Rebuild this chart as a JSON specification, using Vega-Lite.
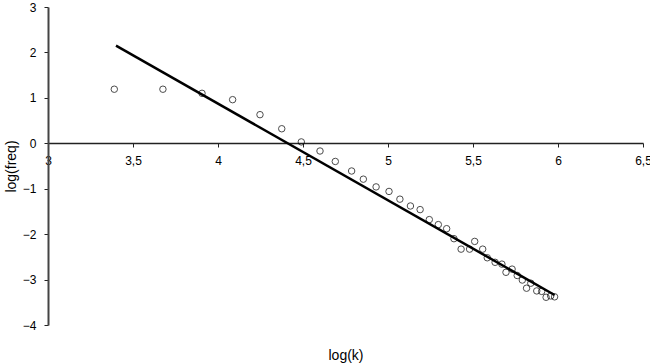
{
  "$schema": "https://vega.github.io/schema/vega-lite/v6.json",
  "width": 595,
  "height": 318,
  "autosize": "none",
  "padding": {"left": 48, "top": 7, "right": 7, "bottom": 39},
  "background": "white",
  "config": {
    "view": {"stroke": null},
    "font": "Liberation Sans",
    "axis": {"grid": false, "domainColor": "#222", "tickColor": "#222", "labelColor": "#000", "titleColor": "#000", "labelFont": "Liberation Sans", "titleFont": "Liberation Sans", "labelFontSize": 12, "titleFontSize": 14, "titleFontWeight": "normal"}
  },
  "datasets": {
    "pts": [
      {"x": 3.39, "y": 1.19}, {"x": 3.676, "y": 1.19}, {"x": 3.906, "y": 1.10},
      {"x": 4.086, "y": 0.96}, {"x": 4.247, "y": 0.63}, {"x": 4.375, "y": 0.32},
      {"x": 4.49, "y": 0.03}, {"x": 4.6, "y": -0.17}, {"x": 4.69, "y": -0.40},
      {"x": 4.786, "y": -0.61}, {"x": 4.855, "y": -0.79}, {"x": 4.93, "y": -0.96},
      {"x": 5.006, "y": -1.06}, {"x": 5.07, "y": -1.23}, {"x": 5.132, "y": -1.38},
      {"x": 5.189, "y": -1.46}, {"x": 5.243, "y": -1.68}, {"x": 5.296, "y": -1.79},
      {"x": 5.345, "y": -1.88}, {"x": 5.388, "y": -2.10}, {"x": 5.43, "y": -2.33},
      {"x": 5.48, "y": -2.33}, {"x": 5.51, "y": -2.16}, {"x": 5.557, "y": -2.33},
      {"x": 5.584, "y": -2.52}, {"x": 5.63, "y": -2.62}, {"x": 5.67, "y": -2.66},
      {"x": 5.694, "y": -2.84}, {"x": 5.73, "y": -2.77}, {"x": 5.76, "y": -2.91},
      {"x": 5.79, "y": -3.01}, {"x": 5.815, "y": -3.19}, {"x": 5.84, "y": -3.08},
      {"x": 5.875, "y": -3.25}, {"x": 5.904, "y": -3.26}, {"x": 5.93, "y": -3.39},
      {"x": 5.957, "y": -3.36}, {"x": 5.98, "y": -3.38}
    ],
    "fit": [
      {"x": 3.40, "y": 2.15},
      {"x": 5.98, "y": -3.34}
    ]
  },
  "layer": [
    {
      "data": {"name": "pts"},
      "mark": {"type": "point", "shape": "circle", "filled": false, "stroke": "#000", "strokeWidth": 1, "size": 42},
      "encoding": {
        "x": {"field": "x", "type": "quantitative", "scale": {"domain": [3, 6.5], "nice": false, "zero": false},
          "axis": {"values": [3, 3.5, 4, 4.5, 5, 5.5, 6, 6.5], "labelExpr": "replace(toString(datum.value), '.', ',')", "offset": -182, "tickSize": 4, "labelPadding": 8, "title": "log(k)", "titleY": 216, "titleBaseline": "alphabetic", "domainWidth": 1.5, "labelFlush": false}},
        "y": {"field": "y", "type": "quantitative", "scale": {"domain": [-4, 3], "nice": false, "zero": false},
          "axis": {"values": [-4, -3, -2, -1, 0, 1, 2, 3], "tickSize": 4, "labelPadding": 8, "title": "log(freq)", "titleX": -33, "titleBaseline": "alphabetic", "domainWidth": 2, "domainColor": "#444"}}
      }
    },
    {
      "data": {"name": "fit"},
      "mark": {"type": "line", "color": "#000", "strokeWidth": 2.5},
      "encoding": {
        "x": {"field": "x", "type": "quantitative"},
        "y": {"field": "y", "type": "quantitative"}
      }
    }
  ]
}
